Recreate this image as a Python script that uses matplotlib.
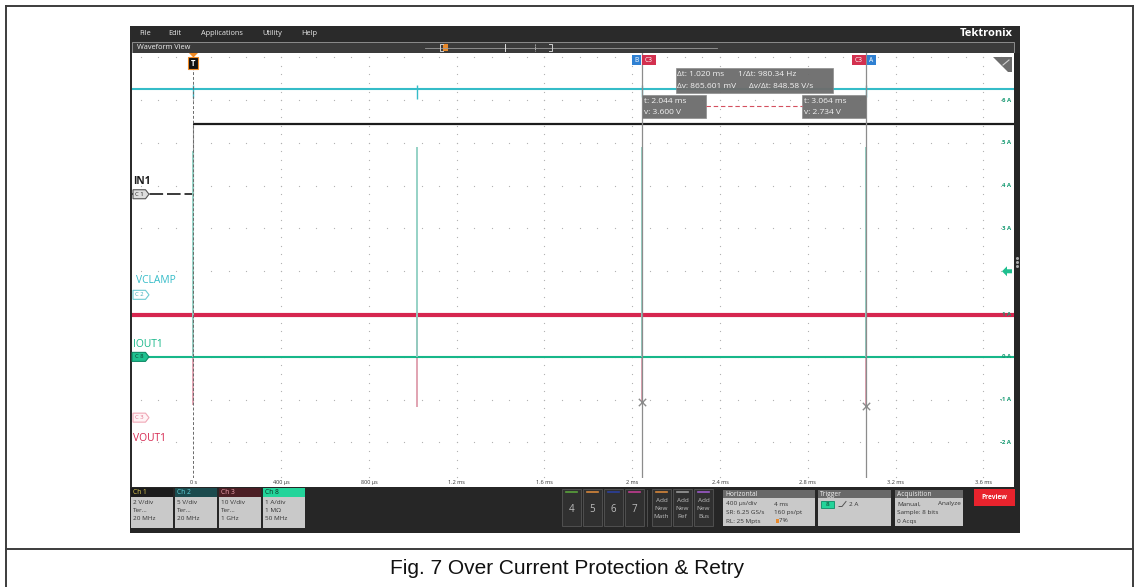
import numpy as np
import matplotlib

matplotlib.use("Agg")
import matplotlib.pyplot as plt
from matplotlib.patches import Rectangle, Polygon

# ── Acquisition settings ───────────────────────────────────────────────
record_ms = 4.0
trig_pos = 0.07
time_div_ms = 0.4

# Over-current trip / retry instants (ms)
retry_ms = [0.0, 1.020, 2.044, 3.064]

# Channel scale (units/div) and ground position (div)
ch_scale = {"C1": 2.0, "C2": 5.0, "C3": 10.0, "C8": 1.0}
ch_pos = {"C1": 3.8, "C2": 1.45, "C3": -1.42, "C8": 0.0}

in1_low_v = 0.0
in1_high_v = 3.3
vclamp_v = 24.0
vclamp_dip_v = [1.0, 1.1, 0.9, 0.9]
vout_v = 24.0
vout_dip_v = [3.0, 2.6, 3.6, 2.734]
iout_a = 0.0
iout_peak_a = [4.8, 4.9, 4.9, 4.9]

# cursor readouts
cursor_t_ms = [2.044, 3.064]
cursor_v = [3.600, 2.734]
delta_t_ms = 1.020
inv_delta_t_hz = 980.34
delta_v_mv = 865.601
slope_v_per_s = 848.58

time_ticks = [0.0, 0.4, 0.8, 1.2, 1.6, 2.0, 2.4, 2.8, 3.2, 3.6]
time_labels = ["0 s", "400 µs", "800 µs", "1.2 ms", "1.6 ms", "2 ms",
               "2.4 ms", "2.8 ms", "3.2 ms", "3.6 ms"]
amp_levels = [6, 5, 4, 3, 1, 0, -1, -2]
trig_level_a = 2.0

# ── Colours ────────────────────────────────────────────────────────────
C_IN1 = "#1c1c1c"
C_VCLAMP = "#35bcc8"
C_VOUT = "#d6264f"
C_IOUT = "#17b789"
C_DARK = "#2b2b2b"
C_CURSOR = "#8c8c8c"
C_READ = "#f2f2f2"

UI = ["Open Sans", "DejaVu Sans"]
W, H = 1134, 587
PX0, PX1, PY0, PY1 = 132, 1014, 53, 478   # waveform area in pixels
YMIN, YMAX = -2.83, 7.10
t_start = -trig_pos * record_ms
XMIN, XMAX = t_start, t_start + record_ms * 1.005


def div(ch, val):
    return np.asarray(val) / ch_scale[ch] + ch_pos[ch]


def xpx(t):
    return PX0 + (t - XMIN) / (XMAX - XMIN) * (PX1 - PX0)


def ypx(d):
    return PY0 + (YMAX - d) / (YMAX - YMIN) * (PY1 - PY0)


fig = plt.figure(figsize=(W / 100, H / 100), dpi=100)

bg = fig.add_axes([0, 0, 1, 1], zorder=0)
bg.set_xlim(0, W)
bg.set_ylim(H, 0)
bg.axis("off")

ax = fig.add_axes([PX0 / W, 1 - PY1 / H, (PX1 - PX0) / W, (PY1 - PY0) / H], zorder=1)
ov = fig.add_axes([0, 0, 1, 1], zorder=2)
ov.set_xlim(0, W)
ov.set_ylim(H, 0)
ov.axis("off")
ov.patch.set_alpha(0)


def rect(a, x0, y0, x1, y1, fc, ec="none", lw=0.0, **kw):
    a.add_patch(Rectangle((x0, y0), x1 - x0, y1 - y0, facecolor=fc,
                          edgecolor=ec, linewidth=lw, **kw))


def txt(a, x, y, s, size=5.0, color="white", ha="left", va="center", **kw):
    kw.setdefault("family", UI)
    a.text(x, y, s, fontsize=size, color=color, ha=ha, va=va, **kw)


def tag(a, x0, x1, y, label, fc, ec, tc, h=9):
    pts = [(x0, y - h / 2), (x1 - 3.5, y - h / 2), (x1, y),
           (x1 - 3.5, y + h / 2), (x0, y + h / 2)]
    a.add_patch(Polygon(pts, closed=True, facecolor=fc, edgecolor=ec, linewidth=0.8))
    txt(a, (x0 + x1 - 3) / 2, y, label, size=4.2, color=tc, ha="center")


# ── Page frame and caption ─────────────────────────────────────────────
bg.plot([6, 1133], [6, 6], color="#3c3c3c", lw=1.4)
bg.plot([6, 6], [6, 587], color="#3c3c3c", lw=1.4)
bg.plot([1133, 1133], [6, 587], color="#3c3c3c", lw=1.4)
bg.plot([6, 1133], [549, 549], color="#3c3c3c", lw=1.4)
bg.text(567, 569, "Fig. 7 Over Current Protection & Retry", fontsize=15,
        family="Liberation Sans", color="#111111", ha="center", va="center")

# ── Scope window chrome ───────────────────────────────────────────────
rect(bg, 130, 26, 1020, 533, C_DARK)
rect(bg, 130, 26, 1020, 41, "#2a2a2a")
for x, s in [(139, "File"), (168, "Edit"), (201, "Applications"),
             (262, "Utility"), (301, "Help")]:
    txt(bg, x, 33.5, s, size=5.3, color="#e8e8e8")
txt(bg, 1013, 33.5, "Tektronix", size=8.0, color="white", ha="right", weight="bold")
rect(bg, 132, 42, 1014, 53, "#3b3b3b", ec="#9a9a9a", lw=0.6)
txt(bg, 137, 47.5, "Waveform View", size=5.3, color="#f0f0f0")
bg.plot([425, 717], [47.5, 47.5], color="#9a9a9a", lw=0.6)
bg.plot([443, 440, 440, 443], [44, 44, 51, 51], color="#cfcfcf", lw=0.7)
bg.plot([549, 552, 552, 549], [44, 44, 51, 51], color="#cfcfcf", lw=0.7)
bg.plot([505, 505], [44, 51], color="#e0e0e0", lw=0.7)
bg.plot([535, 535], [44, 51], color="#cfcfcf", lw=0.6, ls=(0, (1.5, 1)))
rect(bg, 443, 44, 448, 51, "#e8892b")
rect(bg, 132, 53, 1014, 487, "white")

# right strip with handle dots
rect(bg, 1014, 53, 1020, 487, "#262626")
for yy in (258, 262, 266):
    bg.plot(1017, yy, marker="o", ms=1.2, color="#aaaaaa")

# ── Waveform area ──────────────────────────────────────────────────────
ax.set_xlim(XMIN, XMAX)
ax.set_ylim(YMIN, YMAX)
for sp in ax.spines.values():
    sp.set_visible(False)
ax.set_xticks([])
ax.set_yticks([])
ax.set_facecolor("white")

# graticule dots
row_t = np.arange(-0.24, XMAX, time_div_ms / 5)
for yy in range(-2, 8):
    ax.scatter(row_t, np.full(row_t.size, yy), s=0.8, color="#b0b0b0",
               lw=0, zorder=1)
col_y = np.arange(-2.8, YMAX, 0.2)
for tt in time_ticks[1:]:
    ax.scatter(np.full(col_y.size, tt), col_y, s=0.8, color="#b0b0b0",
               lw=0, zorder=1)

t_stop = t_start + record_ms + 0.02

# Ch1 IN1
ax.hlines(div("C1", in1_low_v), t_start, retry_ms[0], color="#3a3a3a", lw=1.4,
          linestyles=(0, (7, 2)), zorder=4)
ax.vlines(retry_ms[0], div("C1", in1_low_v), div("C1", in1_high_v),
          color="#9a9a9a", lw=0.8, zorder=4)
ax.hlines(div("C1", in1_high_v), retry_ms[0], t_stop, color=C_IN1, lw=1.6, zorder=4)

# Ch2 VCLAMP
ax.hlines(div("C2", vclamp_v), t_start, t_stop, color=C_VCLAMP, lw=1.5, zorder=4)
ax.vlines(retry_ms, div("C2", vclamp_v - np.array(vclamp_dip_v)),
          div("C2", vclamp_v + 0.5), color=C_VCLAMP, lw=1.0, zorder=4)

# Ch3 VOUT1
ax.hlines(div("C3", vout_v), t_start, t_stop, color=C_VOUT, lw=3.0, zorder=3)
ax.vlines(retry_ms, div("C3", vout_dip_v), div("C3", vout_v),
          color="#d98a9c", lw=1.1, zorder=3)

# Ch8 IOUT1
ax.hlines(iout_a, t_start, t_stop, color=C_IOUT, lw=1.5, zorder=5)
ax.vlines(retry_ms, iout_a, iout_peak_a, color="#8dcfc1", lw=1.3, zorder=5)

# trigger position line
ax.axvline(0.0, color="#6a6a6a", lw=0.7, ls=(0, (3, 2)), zorder=6)

# cursors
for tc in cursor_t_ms:
    ax.axvline(tc, color=C_CURSOR, lw=0.9, zorder=6)
ax.scatter(cursor_t_ms, div("C3", cursor_v), marker="x", s=28, lw=1.0,
           color="#8a8a8a", zorder=7)

# ── Overlays: labels, tags, readouts ───────────────────────────────────
y1, y2, y3, y8 = (ypx(ch_pos[c]) for c in ("C1", "C2", "C3", "C8"))
txt(ov, 133, y1 - 13, "IN1", size=7.4, color=C_IN1, weight="bold")
tag(ov, 133, 149, y1, "C 1", "#dedede", "#555555", "#222222")
txt(ov, 136, y2 - 14, "VCLAMP", size=7.4, color=C_VCLAMP)
tag(ov, 133, 149, y2, "C 2", "white", "#6dcbd3", "#3aaab5")
txt(ov, 133, y8 - 12, "IOUT1", size=7.4, color=C_IOUT)
tag(ov, 132, 149, y8, "C 8", "#1fc290", "#0e8a66", "#0b3d2d")
tag(ov, 133, 149, y3, "C 3", "#fff3f5", "#f0a7b6", "#e0708a")
txt(ov, 133, y3 + 21, "VOUT1", size=7.4, color=C_VOUT)

# right-hand amp scale
for lv in amp_levels:
    txt(ov, 1011, ypx(lv), f"{lv} A", size=4.3, color="#159a72", ha="right",
        weight="bold")
ya = ypx(trig_level_a)
ov.add_patch(Polygon([(1002, ya), (1007, ya - 5), (1007, ya - 2), (1012, ya - 2),
                      (1012, ya + 2), (1007, ya + 2), (1007, ya + 5)],
                     closed=True, facecolor="#1fbf8f", edgecolor="none"))

# wrench corner
ov.add_patch(Polygon([(993, 57), (1012, 57), (1012, 72), (1008, 72)],
                     closed=True, facecolor="#6c6c6c", edgecolor="none"))
ov.plot([1003, 1009], [65, 60], color="#d0d0d0", lw=0.8)

# trigger marker
x0 = xpx(0.0)
ov.add_patch(Polygon([(x0 - 4.5, 53), (x0 + 4.5, 53), (x0, 57.5)], closed=True,
                     facecolor="#f08a24", edgecolor="none"))
rect(ov, x0 - 5, 57, x0 + 5, 69, "#111111", ec="#f08a24", lw=0.8)
txt(ov, x0, 63, "T", size=5.5, color="white", ha="center", weight="bold")

# cursor tags
xa, xb = xpx(cursor_t_ms[0]), xpx(cursor_t_ms[1])
rect(ov, xa - 10, 55, xa - 1, 65, "#2f80d2")
txt(ov, xa - 5.5, 60, "B", size=4.8, color="white", ha="center")
rect(ov, xa, 55, xa + 14, 65, "#d3304f")
txt(ov, xa + 7, 60, "C3", size=4.8, color="white", ha="center")
rect(ov, xb - 14, 55, xb, 65, "#d3304f")
txt(ov, xb - 7, 60, "C3", size=4.8, color="white", ha="center")
rect(ov, xb + 1, 55, xb + 10, 65, "#2f80d2")
txt(ov, xb + 5.5, 60, "A", size=4.8, color="white", ha="center")

# readouts
rect(ov, 676, 68, 833, 93, "#6d6d6d", ec="#8a8a8a", lw=0.5, alpha=0.96)
txt(ov, 677, 75, f"Δt: {delta_t_ms:.3f} ms", size=6.0, color=C_READ)
txt(ov, 738, 75, f"1/Δt: {inv_delta_t_hz:.2f} Hz", size=6.0, color=C_READ)
txt(ov, 677, 86, f"Δv: {delta_v_mv:.3f} mV", size=6.0, color=C_READ)
txt(ov, 749, 86, f"Δv/Δt: {slope_v_per_s:.2f} V/s", size=6.0, color=C_READ)
ry = 106
ov.plot([xa + 64, xb - 64], [ry, ry], color="#d4505f", lw=0.8, ls=(0, (4, 2.5)))
for xl, tt, vv in [(xa, cursor_t_ms[0], cursor_v[0]), (xb - 64, cursor_t_ms[1], cursor_v[1])]:
    rect(ov, xl, 95, xl + 64, 118, "#6d6d6d", ec="#8a8a8a", lw=0.5, alpha=0.96)
    txt(ov, xl + 2, 101.5, f"t: {tt:.3f} ms", size=6.0, color=C_READ)
    txt(ov, xl + 2, 112, f"v: {vv:.3f} V", size=6.0, color=C_READ)

# time axis labels
for tt, lab in zip(time_ticks, time_labels):
    txt(ov, xpx(tt), 482.5, lab, size=4.0, color="#333333", ha="center")

# ── Bottom control bar ─────────────────────────────────────────────────
rect(bg, 130, 487, 1020, 533, "#262626")
chans = [
    (131, "Ch 1", "#1c1c1c", "#e3cf55", ["2 V/div", "Ter…", "20 MHz"]),
    (175, "Ch 2", "#1b4a4d", "#5fd3dc", ["5 V/div", "Ter…", "20 MHz"]),
    (219, "Ch 3", "#4b1e24", "#f0a0ae", ["10 V/div", "Ter…", "1 GHz"]),
    (263, "Ch 8", "#23d49a", "#0c2e22", ["1 A/div", "1 MΩ", "50 MHz"]),
]
for x0b, name, hc, htc, lines in chans:
    rect(bg, x0b, 488, x0b + 42, 497, hc)
    txt(bg, x0b + 2, 492.5, name, size=4.8, color=htc)
    rect(bg, x0b, 497, x0b + 42, 528, "#c9c9c9")
    for k, ln in enumerate(lines):
        txt(bg, x0b + 2, 502 + k * 8.5, ln, size=4.6, color="#333333")

for k, (num, col) in enumerate(zip(["4", "5", "6", "7"],
                                   ["#5aa23c", "#d5863a", "#2b3f9c", "#c03c8f"])):
    xb0 = 562 + k * 21
    rect(bg, xb0, 489, xb0 + 19, 526, "#303030", ec="#555555", lw=0.6)
    bg.plot([xb0 + 4, xb0 + 15], [492, 492], color=col, lw=1.2)
    txt(bg, xb0 + 9.5, 510, num, size=7.0, color="#bdbdbd", ha="center")
bg.plot([647, 647], [490, 526], color="#555555", lw=0.6)
for k, (name, col) in enumerate(zip(["Math", "Ref", "Bus"],
                                    ["#d5863a", "#9a9a9a", "#9b59c9"])):
    xb0 = 652 + k * 21
    rect(bg, xb0, 489, xb0 + 19, 526, "#303030", ec="#555555", lw=0.6)
    bg.plot([xb0 + 4, xb0 + 15], [492, 492], color=col, lw=1.2)
    for j, w in enumerate(["Add", "New", name]):
        txt(bg, xb0 + 9.5, 501 + j * 8, w, size=4.6, color="#bdbdbd", ha="center")

# Horizontal panel
rect(bg, 723, 490, 815, 498, "#686868")
txt(bg, 725, 494, "Horizontal", size=4.8, color="#f0f0f0")
rect(bg, 723, 498, 815, 526, "#c9c9c9")
for j, (a, b) in enumerate([("400 µs/div", "4 ms"), ("SR: 6.25 GS/s", "160 ps/pt"),
                            ("RL: 25 Mpts", "   7%")]):
    txt(bg, 726, 504 + j * 8.5, a, size=4.6, color="#333333")
    txt(bg, 774, 504 + j * 8.5, b, size=4.6, color="#333333")
rect(bg, 776, 519, 779, 523, "#e8892b")

# Trigger panel
rect(bg, 818, 490, 891, 498, "#686868")
txt(bg, 820, 494, "Trigger", size=4.8, color="#f0f0f0")
rect(bg, 818, 498, 891, 526, "#c9c9c9")
bg.add_patch(Rectangle((821, 500.5), 13, 7, facecolor="#23d49a",
                       edgecolor="#0e8a66", lw=0.6))
txt(bg, 827.5, 504, "8", size=4.6, color="#0c2e22", ha="center")
bg.plot([839, 842, 846], [506.5, 506.5, 501.5], color="#555555", lw=0.7)
txt(bg, 849, 504, "2 A", size=4.6, color="#333333")

# Acquisition panel
rect(bg, 895, 490, 963, 498, "#686868")
txt(bg, 897, 494, "Acquisition", size=4.8, color="#f0f0f0")
rect(bg, 895, 498, 963, 526, "#c9c9c9")
txt(bg, 897, 504, "Manual,", size=4.6, color="#333333")
txt(bg, 961, 504, "Analyze", size=4.6, color="#333333", ha="right")
txt(bg, 897, 512.5, "Sample: 8 bits", size=4.6, color="#333333")
txt(bg, 897, 521, "0 Acqs", size=4.6, color="#333333")

# Preview button
rect(bg, 974, 489, 1015, 506, "#e8232d")
txt(bg, 994.5, 497.5, "Preview", size=4.8, color="white", ha="center", weight="bold")

fig.savefig("out.png", dpi=100)
